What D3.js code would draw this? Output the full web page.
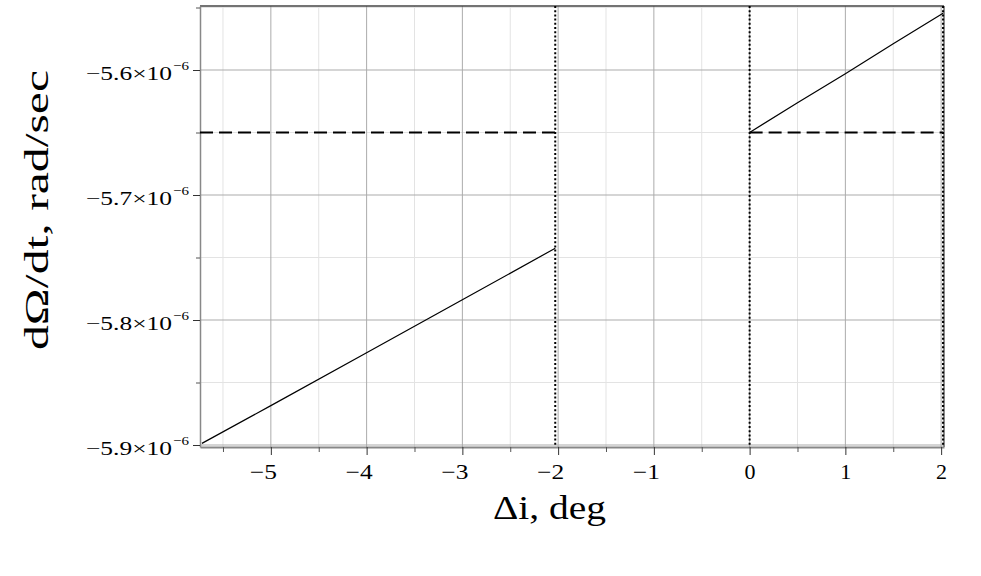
<!DOCTYPE html>
<html><head><meta charset="utf-8">
<script src="https://cdn.jsdelivr.net/npm/d3@7"></script>
<style>body{margin:0;background:#fff} text{font-family:"Liberation Serif","Tinos","Times New Roman","Nimbus Roman",serif;}</style>
</head><body><svg id="c" width="981" height="576"></svg>
<script>
const xDomain = [-5.74, 2.03];
const yDomain = [-5.9016e-6, -5.5488e-6];
const xMajorTicks = [-5, -4, -3, -2, -1, 0, 1, 2];
const xMinorTicks = [-5.5, -4.5, -3.5, -2.5, -1.5, -0.5, 0.5, 1.5];
const xTickLabels = ["−5", "−4", "−3", "−2", "−1", "0", "1", "2"];
const yMajorTicks = [-5.9e-6, -5.8e-6, -5.7e-6, -5.6e-6];
const yMinorTicks = [-5.85e-6, -5.75e-6, -5.65e-6, -5.55e-6];
const yTickLabels = ["−5.9×10", "−5.8×10", "−5.7×10", "−5.6×10"];
const yTickExp = "−6";
const leftX = [-5.72, -5, -4, -3, -2.03];
const leftY = [-5.8987e-6, -5.8685e-6, -5.8262e-6, -5.7838e-6, -5.7426e-6];
const rightX = [0, 0.5, 1, 1.5, 2.02];
const rightY = [-5.65e-6, -5.6262e-6, -5.6030e-6, -5.5790e-6, -5.5546e-6];
const refLevel = -5.65e-6;
const dashStarts = [-5.74, 0];
const dashEnds = [-2.03, 2.02];
const boundaries = [-2.03, 0, 2.02];
const xTitle = "Δi, deg";
const yTitle = "dΩ/dt, rad/sec";

const svg = d3.select("#c");
svg.append("rect").attr("width", 981).attr("height", 576).attr("fill", "#fff");
const L = 200, R = 944, T = 6, B = 447;
const x = d3.scaleLinear().domain(xDomain).range([L, R]);
const y = d3.scaleLinear().domain(yDomain).range([B, T]);

// minor grid
const g = svg.append("g");
g.selectAll(".xmg").data(xMinorTicks).join("line")
  .attr("x1", d => x(d)).attr("x2", d => x(d)).attr("y1", T).attr("y2", B)
  .attr("stroke", "#e3e3e3").attr("stroke-width", 1);
g.selectAll(".ymg").data(yMinorTicks).join("line")
  .attr("y1", d => y(d)).attr("y2", d => y(d)).attr("x1", L).attr("x2", R)
  .attr("stroke", "#e3e3e3").attr("stroke-width", 1);
// major grid
g.selectAll(".xg").data(xMajorTicks).join("line")
  .attr("x1", d => x(d)).attr("x2", d => x(d)).attr("y1", T).attr("y2", B)
  .attr("stroke", "#ababab").attr("stroke-width", 1);
g.selectAll(".yg").data(yMajorTicks).join("line")
  .attr("y1", d => y(d)).attr("y2", d => y(d)).attr("x1", L).attr("x2", R)
  .attr("stroke", "#ababab").attr("stroke-width", 1);

// frame
svg.append("line").attr("x1", L).attr("x2", R).attr("y1", T).attr("y2", T).attr("stroke", "#444").attr("stroke-width", 1.5);
svg.append("line").attr("x1", R).attr("x2", R).attr("y1", T).attr("y2", B).attr("stroke", "#666").attr("stroke-width", 1.5);

// axes
const ax = svg.append("g").attr("transform", `translate(0,${B})`)
  .call(d3.axisBottom(x).tickValues(xMajorTicks).tickSize(8).tickFormat("").tickSizeOuter(0));
ax.select(".domain").attr("stroke", "#888").attr("stroke-width", 2);
ax.selectAll(".tick line").attr("stroke", "#333");
const axm = svg.append("g").attr("transform", `translate(0,${B})`)
  .call(d3.axisBottom(x).tickValues(xMinorTicks).tickSize(5).tickFormat("").tickSizeOuter(0));
axm.select(".domain").remove();
axm.selectAll(".tick line").attr("stroke", "#555");

const ay = svg.append("g").attr("transform", `translate(${L},0)`)
  .call(d3.axisLeft(y).tickValues(yMajorTicks).tickSize(7).tickFormat("").tickSizeOuter(0));
ay.select(".domain").attr("stroke", "#888").attr("stroke-width", 1.5);
ay.selectAll(".tick line").attr("stroke", "#333");
const aym = svg.append("g").attr("transform", `translate(${L},0)`)
  .call(d3.axisLeft(y).tickValues(yMinorTicks).tickSize(4).tickFormat("").tickSizeOuter(0));
aym.select(".domain").remove();
aym.selectAll(".tick line").attr("stroke", "#555");

// tick labels
svg.selectAll(".xl").data(xMajorTicks).join("text")
  .attr("x", d => x(d) + 6).attr("y", 479)
  .attr("text-anchor", "end").attr("font-size", 21)
  .attr("textLength", (d, i) => xTickLabels[i].length > 1 ? 27 : 11)
  .attr("lengthAdjust", "spacingAndGlyphs")
  .attr("fill", "#000").text((d, i) => xTickLabels[i]);
svg.selectAll(".yl").data(yMajorTicks).join("text")
  .attr("x", 172).attr("y", d => y(d) + 10)
  .attr("text-anchor", "end").attr("font-size", 18.5)
  .attr("textLength", 86).attr("lengthAdjust", "spacingAndGlyphs")
  .attr("fill", "#000").text((d, i) => yTickLabels[i]);
svg.selectAll(".ye").data(yMajorTicks).join("text")
  .attr("x", 173).attr("y", d => y(d))
  .attr("font-size", 13)
  .attr("textLength", 16).attr("lengthAdjust", "spacingAndGlyphs")
  .attr("fill", "#000").text(yTickExp);

// boundaries (dotted)
svg.selectAll(".bd").data(boundaries).join("line")
  .attr("x1", d => x(d)).attr("x2", d => x(d)).attr("y1", T).attr("y2", B)
  .attr("stroke", "#000").attr("stroke-width", 2).attr("stroke-dasharray", "2,2.2");

// reference dashed level
svg.selectAll(".ref").data(dashStarts).join("line")
  .attr("x1", d => x(d)).attr("x2", (d, i) => x(dashEnds[i]))
  .attr("y1", y(refLevel)).attr("y2", y(refLevel))
  .attr("stroke", "#000").attr("stroke-width", 2).attr("stroke-dasharray", "13,6");

// data lines
const line = d3.line().x(d => x(d[0])).y(d => y(d[1]));
svg.append("path").datum(leftX.map((v, i) => [v, leftY[i]]))
  .attr("d", line).attr("fill", "none").attr("stroke", "#000").attr("stroke-width", 1.2);
svg.append("path").datum(rightX.map((v, i) => [v, rightY[i]]))
  .attr("d", line).attr("fill", "none").attr("stroke", "#000").attr("stroke-width", 1.2);

// titles
svg.append("text").attr("x", 549.5).attr("y", 519).attr("text-anchor", "middle")
  .attr("font-size", 33)
  .attr("textLength", 113).attr("lengthAdjust", "spacingAndGlyphs")
  .attr("fill", "#000").text(xTitle);
svg.append("text").attr("transform", "translate(48,210) rotate(-90)").attr("text-anchor", "middle")
  .attr("font-size", 33)
  .attr("textLength", 280).attr("lengthAdjust", "spacingAndGlyphs")
  .attr("fill", "#000").text(yTitle);
</script></body></html>
